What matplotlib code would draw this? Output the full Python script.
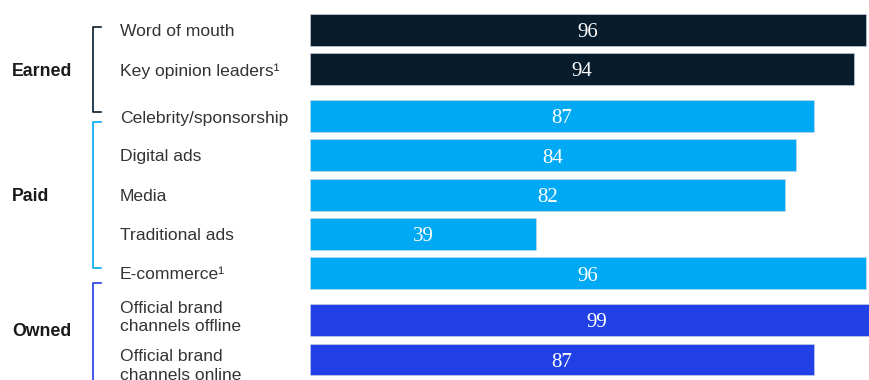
import matplotlib
matplotlib.use("Agg")
import matplotlib.pyplot as plt
from matplotlib.transforms import blended_transform_factory

categories = ["Word of mouth", "Key opinion leaders¹", "Celebrity/sponsorship",
              "Digital ads", "Media", "Traditional ads", "E-commerce¹",
              "Official brand\nchannels offline", "Official brand\nchannels online"]
values = [96, 94, 87, 84, 82, 39, 96, 99, 87]
groups = [0, 0, 1, 1, 1, 1, 1, 2, 2]
group_names = ["Earned", "Paid", "Owned"]
group_colors = ["#071d2e", "#00a9f4", "#2140e6"]

W, H = 869, 380
fig = plt.figure(figsize=(W / 100, H / 100), dpi=100)
ax = fig.add_axes([310 / W, 0, 1 - 310 / W, 1])

gap = 0.19
pos = [i + gap * g for i, g in enumerate(groups)]
ax.barh(pos, values, height=0.81, color=[group_colors[g] for g in groups],
        edgecolor="#cfd8e3", linewidth=0.4)
ax.set_xlim(0, (W - 310) / 5.79)
ax.set_ylim(pos[-1] + 0.52, pos[0] - 0.76)
ax.axis("off")

for p, v in zip(pos, values):
    ax.text(v / 2, p + 0.07, str(v), ha="center", va="center", color="white",
            fontsize=15, family="Liberation Serif")

tr = blended_transform_factory(fig.transFigure, ax.transData)
label_offsets = [0.06, 0.07, 0.07, 0.05, 0.06, 0.06, 0.05, -0.05, 0.18]
for p, c, o in zip(pos, categories, label_offsets):
    ax.text(120 / W, p + o - 0.02, c, transform=tr, ha="left", va="center",
            fontsize=12.6, color="#333333", family="Liberation Sans",
            linespacing=1.3, clip_on=False)

# group brackets and labels (pixel coordinates converted to figure fractions)
brackets = [(27, 112), (122, 268), (283, 395)]
label_y = [71, 197, 332]
for g, ((t, b), ly) in enumerate(zip(brackets, label_y)):
    col = group_colors[g]
    xs = [101 / W, 93 / W, 93 / W, 101 / W]
    ys = [1 - t / H, 1 - t / H, 1 - b / H, 1 - b / H]
    fig.add_artist(plt.Line2D(xs, ys, color=col, lw=1.2, transform=fig.transFigure))
    fig.text(12 / W, 1 - ly / H, group_names[g], ha="left", va="center",
             fontsize=12.8, fontweight="bold", color="#1a1a1a", family="Liberation Sans")

fig.savefig("out.png", dpi=100)
